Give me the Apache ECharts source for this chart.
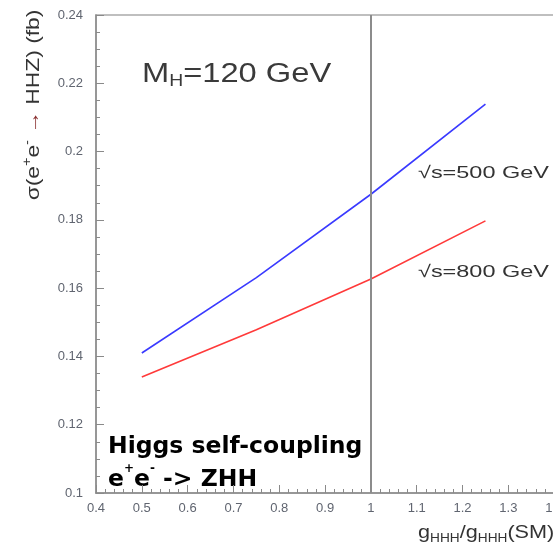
<!DOCTYPE html>
<html>
<head>
<meta charset="utf-8">
<script src="https://cdn.jsdelivr.net/npm/echarts@6/dist/echarts.min.js"></script>
<style>html,body{margin:0;padding:0;background:#fff;}#c{width:553px;height:545px;}</style>
</head>
<body>
<div id="c"></div>
<script>
const xVals = [0.5, 0.75, 1.0, 1.25];
const sigma500 = [0.1410, 0.1631, 0.1875, 0.2139];
const sigma800 = [0.1340, 0.1478, 0.1627, 0.1797];
const xTickMin = 0.4, xTickMax = 1.5, xStep = 0.1;
const yTickMin = 0.1, yTickMax = 0.24, yStep = 0.02;
const smPoint = 1.0;

const chart = echarts.init(document.getElementById('c'), null, {renderer: 'canvas'});
const axisGray = '#8a8a8a';
const labelGray = '#606570';
const font = 'Liberation Sans, Arial, sans-serif';

chart.setOption({
  animation: false,
  backgroundColor: '#fff',
  grid: {
    left: 96, top: 15, width: 504, height: 478,
    show: true, borderColor: '#aaa', borderWidth: 1.5, backgroundColor: 'transparent',
    containLabel: false, outerBoundsMode: 'none'
  },
  xAxis: {
    type: 'value', min: xTickMin, max: xTickMax, interval: xStep,
    axisLine: {show: true, onZero: false, lineStyle: {color: axisGray, width: 1.5}},
    axisTick: {show: true, inside: true, length: 8, lineStyle: {color: axisGray, width: 1}},
    minorTick: {show: true, splitNumber: 5, length: 4, lineStyle: {color: axisGray, width: 1}},
    splitLine: {show: false},
    axisLabel: {color: labelGray, fontSize: 13, fontFamily: font, margin: 9,
      formatter: v => String(Math.round(v * 10) / 10)}
  },
  yAxis: {
    type: 'value', min: yTickMin, max: yTickMax, interval: yStep,
    axisLine: {show: true, onZero: false, lineStyle: {color: axisGray, width: 1.5}},
    axisTick: {show: true, inside: true, length: 8, lineStyle: {color: axisGray, width: 1}},
    minorTick: {show: true, splitNumber: 4, length: 4, lineStyle: {color: axisGray, width: 1}},
    splitLine: {show: false},
    axisLabel: {color: labelGray, fontSize: 13, fontFamily: font, margin: 13,
      formatter: v => String(Math.round(v * 100) / 100)}
  },
  series: [
    {
      type: 'line', data: xVals.map((x, i) => [x, sigma500[i]]),
      showSymbol: false, lineStyle: {color: '#3a3aff', width: 1.6},
      markLine: {
        silent: true, symbol: 'none', label: {show: false},
        lineStyle: {color: '#8c8c8c', width: 2, type: 'solid'},
        data: [{xAxis: smPoint}]
      }
    },
    {
      type: 'line', data: xVals.map((x, i) => [x, sigma800[i]]),
      showSymbol: false, lineStyle: {color: '#ff3a3a', width: 1.6}
    }
  ],
  graphic: [
    {
      type: 'text', x: 34, y: 105, rotation: Math.PI / 2, scaleX: 1.2,
      style: {
        text: '{a|σ(e}{p|+}{a|e}{p|-}{r| → }{a|HHZ) (fb)}',
        align: 'center', verticalAlign: 'middle',
        rich: {
          a: {fontSize: 19, lineHeight: 24, fill: '#333', fontFamily: font},
          p: {fontSize: 12, lineHeight: 13, fill: '#333', fontFamily: font, verticalAlign: 'top'},
          r: {fontSize: 19, lineHeight: 24, fill: '#8a3030', fontFamily: font}
        }
      }
    },
    {
      type: 'text', x: 418, y: 521, scaleX: 1.14,
      style: {
        text: '{m|g}{s|HHH}{m|/g}{s|HHH}{m|(SM)}',
        rich: {
          m: {fontSize: 19, lineHeight: 24, fill: '#333', fontFamily: font},
          s: {fontSize: 12, lineHeight: 13, fill: '#333', fontFamily: font, verticalAlign: 'bottom'}
        }
      }
    },
    {
      type: 'text', x: 142, y: 60, scaleX: 1.21,
      style: {
        text: '{m|M}{s|H}{m|=120 GeV}',
        rich: {
          m: {fontSize: 27, lineHeight: 30, fill: '#3a3a3a', fontFamily: font},
          s: {fontSize: 16, lineHeight: 17, fill: '#3a3a3a', fontFamily: font, verticalAlign: 'bottom'}
        }
      }
    },
    {
      type: 'text', x: 418, y: 165, scaleX: 1.38,
      style: {text: '√s=500 GeV', fontSize: 17, fontFamily: font, fill: '#333'}
    },
    {
      type: 'text', x: 418, y: 264, scaleX: 1.38,
      style: {text: '√s=800 GeV', fontSize: 17, fontFamily: font, fill: '#333'}
    },
    {
      type: 'text', x: 108, y: 430,
      style: {
        text: '{b|Higgs self-coupling}\n{b|e}{p|+}{b|e}{p|-}{b| -> ZHH}',
        rich: {
          b: {fontSize: 23.5, fontWeight: 'bold', lineHeight: 33, fill: '#000', fontFamily: 'DejaVu Sans, Verdana, sans-serif'},
          p: {fontSize: 12, fontWeight: 'bold', lineHeight: 16, fill: '#000', fontFamily: 'DejaVu Sans, Verdana, sans-serif', verticalAlign: 'top'}
        }
      }
    }
  ]
});
</script>
</body>
</html>
